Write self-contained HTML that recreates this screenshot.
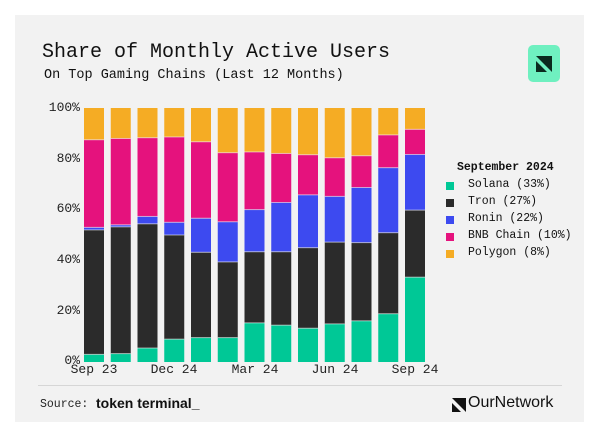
<!DOCTYPE html>
<html><head><style>
body{margin:0;background:#fff;width:600px;height:428px;position:relative;overflow:hidden;font-family:"Liberation Mono",monospace;}
.card{position:absolute;left:15px;top:15px;width:569px;height:407px;background:#f2f2f2;}
.t{position:absolute;left:42px;top:41px;font-size:20px;color:#111;}
.s{position:absolute;left:44px;top:68px;font-size:13.5px;color:#111;}
.yl{position:absolute;width:40px;text-align:right;left:40px;font-size:13px;color:#222;}
.xl{position:absolute;top:362px;font-size:13px;color:#222;width:60px;text-align:center;}
.lg{position:absolute;left:446px;font-size:11.5px;color:#111;}
.sq{position:absolute;left:446px;width:8px;height:8px;}
</style></head><body>
<div class="card"></div>
<div class="t">Share of Monthly Active Users</div>
<div class="s">On Top Gaming Chains (Last 12 Months)</div>
<div style="position:absolute;left:528px;top:45px;width:32px;height:37px;background:#6ff0c0;border-radius:5px"></div>
<svg style="position:absolute;left:536px;top:56px" width="16" height="16"><polygon points="0,0 16,0 16,16" fill="#0b2a1e"/><polygon points="0,5 11,16 0,16" fill="#0b2a1e"/></svg>
<div class="yl" style="top:100px">100%</div>
<div class="yl" style="top:151px">80%</div>
<div class="yl" style="top:201px">60%</div>
<div class="yl" style="top:252px">40%</div>
<div class="yl" style="top:303px">20%</div>
<div class="yl" style="top:353px">0%</div>
<svg id="c" style="position:absolute;left:0;top:0" width="600" height="428"></svg>
<div class="xl" style="left:64px">Sep 23</div>
<div class="xl" style="left:144px">Dec 24</div>
<div class="xl" style="left:225px">Mar 24</div>
<div class="xl" style="left:305px">Jun 24</div>
<div class="xl" style="left:385px">Sep 24</div>
<div class="lg" style="top:161px;left:457px;font-weight:bold">September 2024</div>
<div class="sq" style="top:182px;background:#00c896"></div><div class="lg" style="top:178px;left:468px">Solana (33%)</div>
<div class="sq" style="top:199px;background:#2b2b2b"></div><div class="lg" style="top:195px;left:468px">Tron (27%)</div>
<div class="sq" style="top:216px;background:#3d4af0"></div><div class="lg" style="top:212px;left:468px">Ronin (22%)</div>
<div class="sq" style="top:233px;background:#e5127d"></div><div class="lg" style="top:229px;left:468px">BNB Chain (10%)</div>
<div class="sq" style="top:250px;background:#f5ac24"></div><div class="lg" style="top:246px;left:468px">Polygon (8%)</div>
<div style="position:absolute;left:38px;top:385px;width:524px;height:1px;background:#d6d6d6"></div>
<div style="position:absolute;left:40px;top:398px;font-size:11.5px;color:#222">Source:</div>
<div style="position:absolute;left:96px;top:395px;font-size:14px;font-weight:bold;font-family:'Liberation Sans',sans-serif;color:#111">token terminal_</div>
<svg style="position:absolute;left:452px;top:398px" width="14" height="14"><polygon points="0,0 14,0 14,14" fill="#111"/><polygon points="0,5 9,14 0,14" fill="#111"/></svg>
<div style="position:absolute;left:468px;top:394px;font-size:16px;font-family:'Liberation Sans',sans-serif;color:#111">OurNetwork</div>
<script>
var d=[[3,52,53,87.5],[3.3,53.2,54,88],[5.5,54.4,57.3,88.3],[9,50,55,88.6],[9.6,43.2,56.6,86.7],[9.6,39.4,55.2,82.4],[15.4,43.4,60,82.7],[14.5,43.4,62.8,82.1],[13.3,45,65.8,81.6],[15,47.2,65.2,80.4],[16.2,47,68.7,81.2],[19,50.9,76.5,89.4],[33.4,59.8,81.7,91.6]];
var col=["#00c896","#2b2b2b","#3d4af0","#e5127d","#f5ac24"],s="";
var y0=362,h=254;
d.forEach(function(r,i){var x=84+i*26.75,p=0,v=r.concat([100]);
for(var k=0;k<5;k++){var a=y0-v[k]*h/100,b=y0-p*h/100;s+='<rect x="'+x+'" y="'+a+'" width="20" height="'+(b-a)+'" fill="'+col[k]+'"/>';p=v[k];}
for(var k=0;k<4;k++){var a=y0-v[k]*h/100;s+='<rect x="'+x+'" y="'+(a-0.5)+'" width="20" height="1" fill="#f2f2f2" opacity="0.6"/>';}});
document.getElementById('c').innerHTML=s;
</script>
</body></html>
